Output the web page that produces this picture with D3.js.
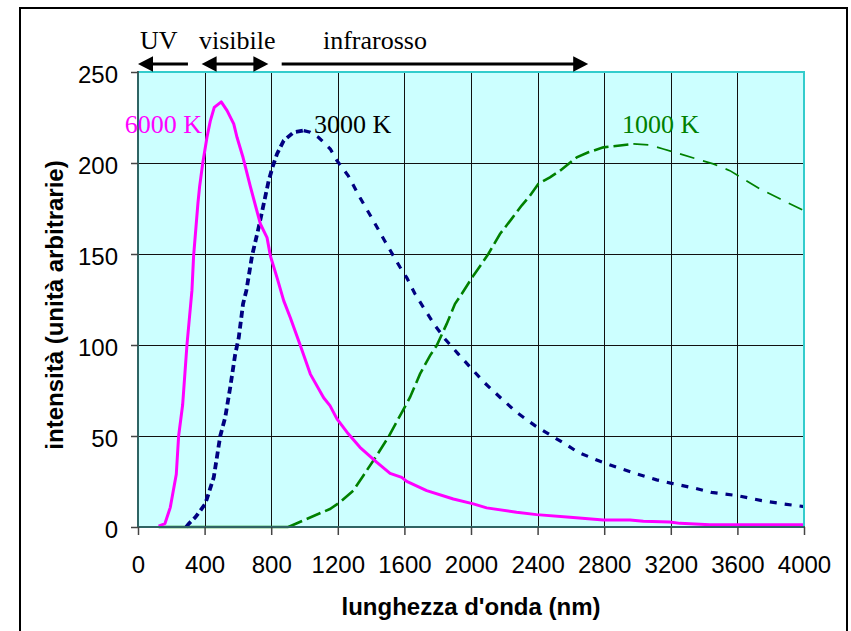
<!DOCTYPE html>
<html><head><meta charset="utf-8">
<script src="https://cdn.jsdelivr.net/npm/d3@7"></script>
<style>
html,body{margin:0;padding:0;background:#fff;}
svg{display:block;}
</style></head>
<body>
<svg id="chart" width="851" height="631"></svg>
<script>
// ---------- data ----------
const xTickValues = [0,400,800,1200,1600,2000,2400,2800,3200,3600,4000];
const yTickValues = [0,50,100,150,200,250];

const wavelength6000 = [124,162,194,230,244,268,294,324,334,360,370,389,414,434,458,500,535,575,595,631,675,735,775,795,835,875,915,975,1035,1115,1153,1195,1263,1333,1433,1514,1584,1614,1734,1894,2014,2094,2274,2394,2595,2795,2955,3035,3195,3255,3435,4000];
const intensity6000 = [0.5,1.9,10.8,29,50,67,100,130,149,178,187,200,214,223,230.6,233.6,228.8,221.5,214,203,187,166.5,159,149,137,124.4,115,99.7,84,71,66.7,59.4,51.2,43.8,35.6,29.5,27.3,25.1,20,15.4,12.7,10.5,8.1,6.8,5.3,3.9,3.9,3.1,2.8,2.0,1.2,1.2];

const wavelength3000 = [290,304,344,404,455,494,524,554,584,605,631,651,685,725,755,785,811,835,875,935,995,1035,1085,1155,1195,1263,1333,1403,1483,1574,1614,1664,1714,1784,1844,1924,2004,2084,2174,2274,2384,2514,2564,2644,2775,2875,2995,3115,3205,3335,3445,3596,3746,3876,4000];
const intensity3000 = [0,1.7,5.3,12.7,27.3,50,60.3,76.8,95,104,122.6,130,149,164.7,177.5,190.3,198.6,205,212.3,216.9,217.8,216.9,214,207.7,201.3,193,181,170,157,142.7,137,128,120.7,110.7,103.3,95,86.9,79,71.3,63,55.7,48.4,45.7,41,36.1,32.8,29.2,25.9,24,21.5,19,17.3,14.5,12.7,11.2];

const wavelength1000 = [124,903,1013,1153,1213,1293,1353,1433,1503,1574,1634,1694,1754,1794,1854,1904,1944,2014,2064,2104,2174,2244,2304,2354,2404,2474,2535,2585,2635,2705,2795,2895,2975,3075,3155,3255,3355,3455,3555,3635,3735,3855,4000];
const intensity1000 = [0,0,4.4,9.9,13.6,20,28.2,39.2,49.3,61.2,71.3,84.1,94.2,99.7,111.6,122.6,128,138.1,144.6,150,161,169.3,176.6,182,188.5,192.1,195.8,199.5,203.1,205.9,208.6,209.6,210.5,209.9,207.7,205,202.2,199.5,195.8,191.3,185.8,180.3,173.8];

const seriesNames = ["1000 K","3000 K","6000 K"];
const labelWavelength = [2907, 1057, 384];
const labelIntensity = [216.5, 216.5, 216.5];
const labelAnchor = ["start","start","end"];

const bandNames = ["UV","visibile","infrarosso"];
const bandFrom = [0, 382, 863];
const bandTo = [300, 783, 2704];
const bandHeadStart = [true, true, false];
const bandHeadEnd = [false, true, true];
const bandLabelAt = [12, 366, 1111];

// ---------- layout ----------
const svg = d3.select("#chart");
const pL = 138, pR = 804, pT = 72, pB = 527;
const x = d3.scaleLinear().domain([0,4000]).range([pL,pR]);
const y = d3.scaleLinear().domain([0,250]).range([pB,pT]);
const sans = "'Liberation Sans', Arial, sans-serif";
const serif = "'Liberation Serif', 'Times New Roman', serif";

// outer frame
svg.append("path").attr("d","M20,640 L20,8 L847,8 L847,640")
  .attr("fill","none").attr("stroke","#000").attr("stroke-width",2);

// plot background
svg.append("rect").attr("x",pL).attr("y",pT).attr("width",pR-pL).attr("height",pB-pT)
  .attr("fill","#CCFFFF");

// grid
const gx = svg.append("g");
xTickValues.filter(v=>v>0 && v<4000).forEach(v=>{
  const px = Math.round(x(v))+0.5;
  gx.append("line").attr("x1",px).attr("x2",px).attr("y1",pT).attr("y2",pB)
    .attr("stroke","#111").attr("stroke-width",1);
});
yTickValues.filter(v=>v>0 && v<250).forEach(v=>{
  const py = Math.round(y(v))+0.5;
  gx.append("line").attr("x1",pL).attr("x2",pR).attr("y1",py).attr("y2",py)
    .attr("stroke","#111").attr("stroke-width",1);
});

// series
const line = d3.line().x(d=>x(d[0])).y(d=>y(d[1]));
const d1000 = wavelength1000.map((w,i)=>[w,intensity1000[i]]);
const d3000 = wavelength3000.map((w,i)=>[w,intensity3000[i]]);
const d6000 = wavelength6000.map((w,i)=>[w,intensity6000[i]]);
const peak1000 = d3.maxIndex(intensity1000);
const peak3000 = d3.maxIndex(intensity3000);

// 1000 K: solid baseline, thicker rising dashes, thinner falling dashes
svg.append("path").datum(d1000.filter(d=>d[1]===0)).attr("d",line)
  .attr("fill","none").attr("stroke","#008000").attr("stroke-width",2.5);
svg.append("path").datum(d1000.slice(1, peak1000+1)).attr("d",line)
  .attr("fill","none").attr("stroke","#008000").attr("stroke-width",2.6)
  .attr("stroke-dasharray","15,5");
svg.append("path").datum(d1000.slice(peak1000)).attr("d",line)
  .attr("fill","none").attr("stroke","#008000").attr("stroke-width",1.7)
  .attr("stroke-dasharray","15,9");
// 3000 K: dotted, thicker on rise
svg.append("path").datum(d3000.slice(0, peak3000+1)).attr("d",line)
  .attr("fill","none").attr("stroke","#000080").attr("stroke-width",3.8)
  .attr("stroke-dasharray","7,4");
svg.append("path").datum(d3000.slice(peak3000)).attr("d",line)
  .attr("fill","none").attr("stroke","#000080").attr("stroke-width",3.2)
  .attr("stroke-dasharray","7,8");
// 6000 K: solid
svg.append("path").datum(d6000).attr("d",line)
  .attr("fill","none").attr("stroke","#FF00FF").attr("stroke-width",3)
  .attr("stroke-linejoin","round");

// plot border (top/right cyan) and axes (left/bottom)
svg.append("path").attr("d",`M${pL},${pT} L${pR},${pT} L${pR},${pB}`)
  .attr("fill","none").attr("stroke","#33CCCC").attr("stroke-width",2);
svg.append("path").attr("d",`M${pL},${pT-1} L${pL},${pB} L${pR+1},${pB}`)
  .attr("fill","none").attr("stroke","#2F6464").attr("stroke-width",2);

// axes
const yAxis = svg.append("g").attr("transform",`translate(${pL},0)`)
  .call(d3.axisLeft(y).tickValues(yTickValues).tickSize(7).tickPadding(13).tickFormat(d3.format("d")));
const xAxis = svg.append("g").attr("transform",`translate(0,${pB})`)
  .call(d3.axisBottom(x).tickValues(xTickValues).tickSize(8).tickPadding(21).tickFormat(d3.format("d")));
[yAxis,xAxis].forEach(g=>{
  g.select(".domain").remove();
  g.selectAll(".tick line").attr("stroke","#444").attr("stroke-width",1.5);
  g.selectAll(".tick text").attr("font-family",sans).attr("font-size",24).attr("fill","#000");
});
yAxis.selectAll(".tick text").attr("dy","10.5px");
xAxis.selectAll(".tick text").attr("dy","0.71em");

// axis titles
svg.append("text").attr("x",(pL+pR)/2).attr("y",615).attr("text-anchor","middle")
  .attr("font-family",sans).attr("font-weight","bold").attr("font-size",24)
  .text("lunghezza d'onda (nm)");
svg.append("text").attr("transform","translate(63,305) rotate(-90)").attr("text-anchor","middle")
  .attr("font-family",sans).attr("font-weight","bold").attr("font-size",24)
  .text("intensità (unità arbitrarie)");

// band arrows
const arrowY = 64, headL = 15, headH = 7.8;
bandNames.forEach((name,i)=>{
  const xa = x(bandFrom[i]), xb = x(bandTo[i]);
  const g = svg.append("g");
  g.append("line").attr("x1",xa+(bandHeadStart[i]?headL-2:0)).attr("x2",xb-(bandHeadEnd[i]?headL-2:0))
    .attr("y1",arrowY).attr("y2",arrowY).attr("stroke","#000").attr("stroke-width",2.8);
  if (bandHeadStart[i]) g.append("path")
    .attr("d",`M${xa},${arrowY} L${xa+headL},${arrowY-headH} L${xa+headL},${arrowY+headH} Z`).attr("fill","#000");
  if (bandHeadEnd[i]) g.append("path")
    .attr("d",`M${xb},${arrowY} L${xb-headL},${arrowY-headH} L${xb-headL},${arrowY+headH} Z`).attr("fill","#000");
  svg.append("text").attr("x",x(bandLabelAt[i])).attr("y",49)
    .attr("font-family",serif).attr("font-size",26).attr("fill","#000").text(name);
});

// curve labels
const labelColors = ["#008000","#000000","#FF00FF"];
seriesNames.forEach((name,i)=>{
  svg.append("text").attr("x",x(labelWavelength[i])).attr("y",y(labelIntensity[i]))
    .attr("text-anchor",labelAnchor[i]).attr("font-family",serif).attr("font-size",26)
    .attr("fill",labelColors[i]).text(name);
});
</script>
</body></html>
